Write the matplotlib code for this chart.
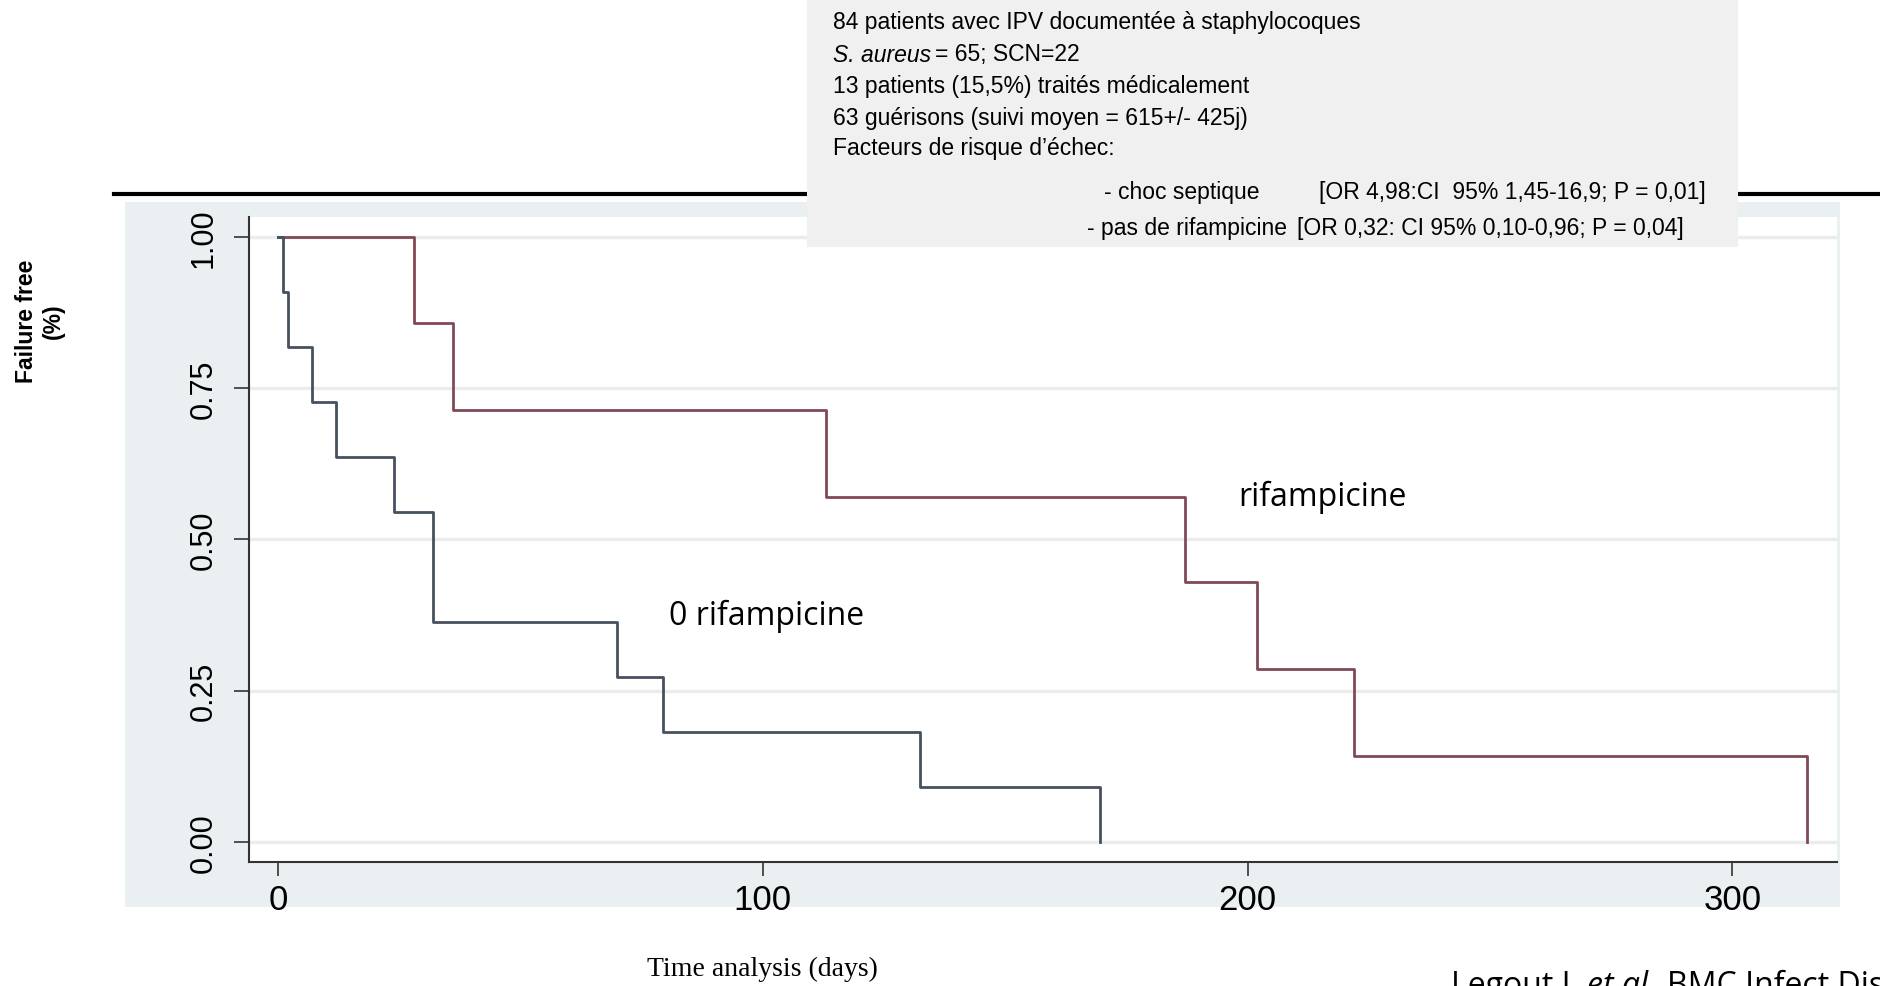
import matplotlib
matplotlib.use("Agg")
import matplotlib.pyplot as plt
from matplotlib.patches import Rectangle

# Kaplan-Meier: temps (jours) et survie sans echec
rif_days = [0, 28, 36, 113, 187, 202, 222, 315.5]
rif_surv = [1.0, 0.857, 0.714, 0.571, 0.429, 0.286, 0.143, 0.0]
norif_days = [0, 1, 2, 7, 12, 24, 32, 70, 79.5, 132.5, 169.5]
norif_surv = [1.0, 0.909, 0.818, 0.727, 0.636, 0.545, 0.364, 0.273, 0.182, 0.091, 0.0]

y_ticks = [0.0, 0.25, 0.5, 0.75, 1.0]
y_tick_labels = ["0.00", "0.25", "0.50", "0.75", "1.00"]
x_ticks = [0, 100, 200, 300]

box_lines = [
    "84 patients avec IPV documentée à staphylocoques",
    None,
    "13 patients (15,5%) traités médicalement",
    "63 guérisons (suivi moyen = 615+/- 425j)",
    "Facteurs de risque d\u2019échec:",
]

W, H = 1880, 987
fig = plt.figure(figsize=(W / 100, H / 100), dpi=100)
fig.patch.set_facecolor("white")


def fx(px):
    return px / W


def fy(py):
    return 1 - py / H


sans = "Liberation Sans"
box_fs = 16.5

# fond gris-bleu de style Stata
fig.add_artist(Rectangle((fx(125), fy(908)), fx(1840) - fx(125), fy(203) - fy(908),
                         transform=fig.transFigure, facecolor="#eaeff2",
                         edgecolor="none", zorder=-2))
# trait noir en haut
fig.add_artist(plt.Line2D([fx(114), 1.0], [fy(195), fy(195)], transform=fig.transFigure,
                          color="black", lw=3, zorder=-1))

ax = fig.add_axes([fx(249), fy(863), fx(1837) - fx(249), fy(218) - fy(863)])
ax.set_facecolor("white")
ax.step(rif_days, rif_surv, where="post", color="#814955", lw=2.0)
ax.step(norif_days, norif_surv, where="post", color="#46505e", lw=2.0)

ax.set_xlim(-6, 321.6)
ax.set_ylim(-0.033, 1.033)
ax.set_yticks(y_ticks)
ax.set_yticklabels(y_tick_labels, rotation=90, va="center", family=sans, fontsize=22)
ax.set_xticks(x_ticks)
ax.set_xticklabels([str(t) for t in x_ticks], family=sans, fontsize=25)
ax.tick_params(axis="y", length=11, width=1.2, pad=11, color="#333333")
ax.tick_params(axis="x", length=10, width=1.2, pad=5, color="#333333")
ax.grid(axis="y", color="#ececec", lw=2.5)
ax.set_axisbelow(True)
for s in ["top", "right"]:
    ax.spines[s].set_visible(False)
for s in ["left", "bottom"]:
    ax.spines[s].set_color("#333333")
    ax.spines[s].set_linewidth(1.5)

ax.text(198, 0.571, "rifampicine", fontsize=23, family="Open Sans", va="center")
ax.text(80.7, 0.375, "0 rifampicine", fontsize=23, family="Open Sans", va="center")

# titres des axes
fig.text(fx(40), fy(321), "Failure free\n(%)", rotation=90, ha="center", va="center",
         fontsize=16.5, fontweight="bold", family=sans, linespacing=1.25)
fig.text(fx(762), fy(976), "Time analysis (days)", ha="center", va="baseline",
         fontsize=20, family="Liberation Serif")

# reference en bas a droite
c1 = fig.text(fx(1451), fy(995), "Legout L", ha="left", va="baseline",
              fontsize=23, family="Open Sans")
c2 = fig.add_artist(plt.Annotation("et al.", xy=(1, 0), xycoords=c1, xytext=(6, 0),
                                   textcoords="offset points", va="bottom", fontsize=23,
                                   family="Open Sans", style="italic"))
fig.add_artist(plt.Annotation("BMC Infect Dis", xy=(1, 0), xycoords=c2, xytext=(8, 0),
                              textcoords="offset points", va="bottom", fontsize=23,
                              family="Open Sans"))

# encadre gris
fig.add_artist(Rectangle((fx(807), fy(248)), fx(1738) - fx(807), fy(0) - fy(248),
                         transform=fig.transFigure, facecolor="#f0f0f0",
                         edgecolor="none", zorder=5))
line_y = [23, 55, 86, 118, 149]
for yy, txt in zip(line_y, box_lines):
    if txt is None:
        continue
    fig.text(fx(833), fy(yy), txt, ha="left", va="center", fontsize=box_fs, family=sans,
             zorder=6)
sa = fig.text(fx(833), fy(55), "S. aureus", ha="left", va="center", fontsize=box_fs,
              family=sans, style="italic", zorder=6)
fig.add_artist(plt.Annotation("= 65; SCN=22", xy=(1, 0), xycoords=sa, xytext=(3, 0),
                              textcoords="offset points", va="bottom", fontsize=box_fs,
                              family=sans, zorder=6))
fig.text(fx(1104), fy(193), "- choc septique", ha="left", va="center", fontsize=box_fs,
         family=sans, zorder=6)
fig.text(fx(1319), fy(193), "[OR 4,98:CI  95% 1,45-16,9; P = 0,01]", ha="left", va="center",
         fontsize=box_fs, family=sans, zorder=6)
fig.text(fx(1087), fy(228), "- pas de rifampicine", ha="left", va="center", fontsize=box_fs,
         family=sans, zorder=6)
fig.text(fx(1297), fy(228), "[OR 0,32: CI 95% 0,10-0,96; P = 0,04]", ha="left", va="center",
         fontsize=box_fs, family=sans, zorder=6)

fig.savefig("out.png", dpi=100)
